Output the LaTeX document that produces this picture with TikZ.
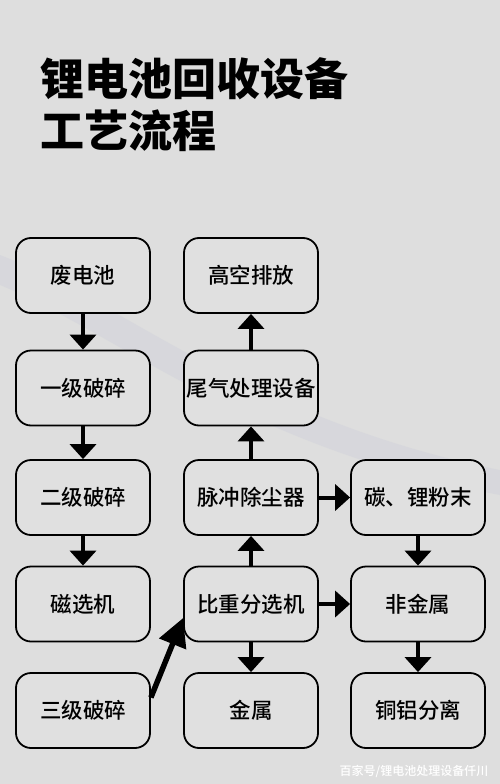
\documentclass[tikz,border=0pt]{standalone}
\usepackage{fontspec}
\usepackage{tikz}
\usetikzlibrary{arrows.meta}
\newfontfamily\cjk{Noto Sans CJK SC}
\newfontfamily\cjkm{Noto Sans CJK SC Medium}
\definecolor{bggray}{RGB}{222,222,222}
\definecolor{boxfill}{RGB}{224,224,224}
\definecolor{swoosh}{RGB}{200,202,216}

\begin{document}
\begin{tikzpicture}[x=1pt,y=1pt,
    box/.style={draw,shape=rectangle,rounded corners=15pt,line width=1.8pt,fill=boxfill,
                minimum width=134pt,minimum height=75pt,inner sep=0pt,
                font=\cjkm\fontsize{21.5}{24}\selectfont},
    arr/.style={-{Triangle[width=26pt,length=15pt]},line width=4pt}]
            \useasboundingbox (0,0) rectangle (500,-784);
            \fill[bggray] (0,0) rectangle (500,-784);
            % faint swoosh behind the boxes
            \fill[swoosh,opacity=.3] (0,-255) .. controls (120,-300) and (250,-420) .. (500,-470)
                  -- (500,-495) .. controls (250,-450) and (120,-335) .. (0,-285) -- cycle;

            \node[anchor=base west,inner sep=0pt,font=\cjk\bfseries\fontsize{44}{52}\selectfont](t1)at(40,-95){锂电池回收设备};
            \node[anchor=base west,inner sep=0pt,font=\cjk\bfseries\fontsize{44}{52}\selectfont](t2)at(40,-147){工艺流程};

            % left column
            \node[box](n1)at(83,-275.5){废电池};
            \node[box](n2)at(83,-388){一级破碎};
            \node[box](n3)at(83,-497.5){二级破碎};
            \node[box](n4)at(83,-604){磁选机};
            \node[box](n5)at(83,-710.5){三级破碎};

            % middle column
            \node[box](n6)at(251,-275.5){高空排放};
            \node[box](n7)at(251,-388){尾气处理设备};
            \node[box](n8)at(251,-497.5){脉冲除尘器};
            \node[box](n9)at(251,-604){比重分选机};
            \node[box](n10)at(251,-710.5){金属};

            % right column
            \node[box](n11)at(418,-497.5){碳、锂粉末};
            \node[box](n12)at(418,-604){非金属};
            \node[box](n13)at(418,-710.5){铜铝分离};

            \node[font=\cjkm\fontsize{12}{14}\selectfont,text=white](wm)at(414,-771){百家号/锂电池处理设备仟川};

            \draw[arr](n1)to[](n2);
            \draw[arr](n2)to[](n3);
            \draw[arr](n3)to[](n4);
            \draw[arr,line width=5.5pt,-{Triangle[width=28pt,length=28pt]}]([yshift=13pt]n5.east)to[]([yshift=-14pt]n9.west);
            \draw[arr](n9)to[](n8);
            \draw[arr](n8)to[](n7);
            \draw[arr](n7)to[](n6);
            \draw[arr](n9)to[](n10);
            \draw[arr](n8)to[](n11);
            \draw[arr](n9)to[](n12);
            \draw[arr](n11)to[](n12);
            \draw[arr](n12)to[](n13);
\end{tikzpicture}
\end{document}
